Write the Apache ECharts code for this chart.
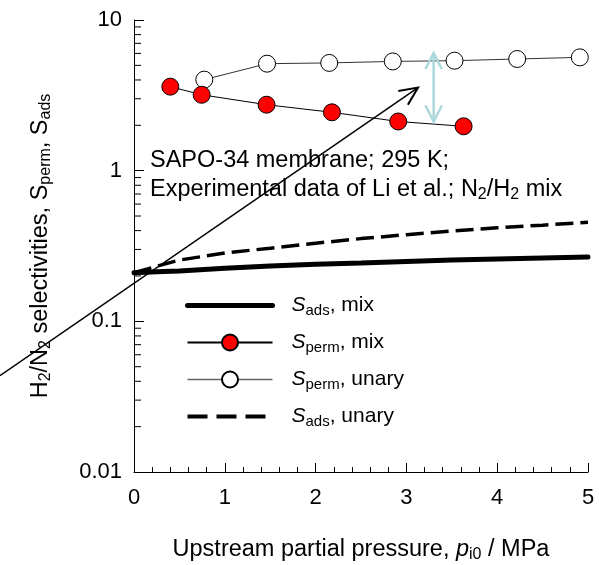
<!DOCTYPE html>
<html><head><meta charset="utf-8">
<script src="https://cdn.jsdelivr.net/npm/echarts@6/dist/echarts.min.js"></script>
<style>html,body{margin:0;padding:0;background:#fff}#c{width:599px;height:565px}</style>
</head><body><div id="c"></div>
<script>
// ---- data ----
const modelP = [0, 0.25, 0.5, 1, 1.5, 2, 2.5, 3, 3.5, 4, 4.5, 5];
const sAdsMix = [0.210, 0.213, 0.216, 0.225, 0.233, 0.239, 0.244, 0.250, 0.255, 0.259, 0.263, 0.267];
const sAdsUnary = [0.210, 0.232, 0.255, 0.284, 0.306, 0.330, 0.354, 0.376, 0.397, 0.418, 0.435, 0.454];
const permMixP = [0.40, 0.745, 1.46, 2.18, 2.91, 3.63];
const permMixS = [3.61, 3.19, 2.74, 2.44, 2.12, 1.97];
const permUnaryP = [0.774, 1.465, 2.15, 2.85, 3.53, 4.22, 4.91];
const permUnaryS = [4.02, 5.13, 5.19, 5.31, 5.37, 5.51, 5.65];
const arrowLine = [[-1.476, 0.0436], [3.128, 3.56]];
const gapArrow = [[3.30, 2.12], [3.30, 6.04]];
const xTicks = [0, 1, 2, 3, 4, 5];
const yTicks = [0.01, 0.1, 1, 10];
const yMinor = [2,3,4,5,6,7,8,9];

const FONT = 'Liberation Sans, Arial, sans-serif';
const zip = (a, b) => a.map((v, i) => [v, b[i]]);

const chart = echarts.init(document.getElementById('c'), null, {renderer: 'canvas'});
const legendNames = {
  'Sads_mix': '{i|S}{s|ads}{t|, mix}',
  'Sperm_mix': '{i|S}{s|perm}{t|, mix}',
  'Sperm_unary': '{i|S}{s|perm}{t|, unary}',
  'Sads_unary': '{i|S}{s|ads}{t|, unary}'
};
const T = 23.5, TS = 16;
const mainStyle = {fontSize: T, fontFamily: FONT, color: '#000'};
const subStyle = {fontSize: TS, fontFamily: FONT, color: '#000', padding: [11, 0, 0, 0]};
const lgMain = {fontSize: 21, fontFamily: FONT, color: '#000'};
const lgSub = {fontSize: 15, fontFamily: FONT, color: '#000', padding: [10, 0, 0, 0]};

chart.setOption({
  animation: false,
  backgroundColor: '#fff',
  grid: {left: 134, top: 20, right: 11, bottom: 93, containLabel: false, outerBoundsMode: 'none'},
  xAxis: {
    type: 'value', min: 0, max: 5, interval: 1,
    axisLine: {show: true, lineStyle: {color: '#000', width: 1}},
    axisTick: {show: true, inside: true, length: 9, lineStyle: {color: '#000'}},
    minorTick: {show: true, splitNumber: 5, length: 5, lineStyle: {color: '#000'}},
    splitLine: {show: false},
    axisLabel: {margin: 15, fontSize: 22, fontFamily: FONT, color: '#000',
      formatter: v => xTicks.includes(v) ? String(v) : ''},
    name: '{n|Upstream partial pressure, }{i|p}{s|i0}{n| / MPa}',
    nameLocation: 'middle', nameGap: 64,
    nameTextStyle: {rich: {n: mainStyle, i: Object.assign({}, mainStyle, {fontStyle: 'italic'}), s: subStyle}}
  },
  yAxis: {
    type: 'log', logBase: 10, min: 0.01, max: 10,
    axisLine: {show: true, lineStyle: {color: '#000', width: 1}},
    axisTick: {show: true, inside: true, length: 10, lineStyle: {color: '#000'}},
    minorTick: {show: false},
    splitLine: {show: false},
    axisLabel: {margin: 12, fontSize: 22, fontFamily: FONT, color: '#000',
      formatter: v => { const t = yTicks.find(k => Math.abs(k - v) / k < 1e-6); return t === undefined ? '' : String(t); }},
    name: '{n|H}{s|2}{n|/N}{s|2}{n| selectivities, S}{s|perm}{n|, S}{s|ads}',
    nameLocation: 'middle', nameGap: 80,
    nameTextStyle: {rich: {n: mainStyle, s: subStyle}}
  },
  legend: {
    orient: 'vertical', left: 180, top: 290, itemWidth: 85, itemHeight: 20, itemGap: 14,
    data: [
      {name: 'Sads_mix', lineStyle: {width: 5, color: '#000'}},
      {name: 'Sperm_mix'},
      {name: 'Sperm_unary', lineStyle: {color: '#666', width: 1.5}},
      {name: 'Sads_unary', lineStyle: {width: 4, color: '#000', type: [20, 9]}}
    ],
    formatter: n => legendNames[n],
    textStyle: {padding: [0, 0, 0, 14], rich: {
      i: Object.assign({}, lgMain, {fontStyle: 'italic'}), s: lgSub, t: lgMain}},
    selectedMode: false
  },
  series: [
    {name: 'Sads_unary', type: 'line', data: zip(modelP, sAdsUnary), symbol: 'none', z: 2,
     lineStyle: {color: '#000', width: 3.5, type: [18, 7]}, itemStyle: {color: 'transparent'}},
    {name: 'Sads_mix', type: 'line', data: zip(modelP, sAdsMix), symbol: 'none', z: 2,
     lineStyle: {color: '#000', width: 5, cap: 'round'}, itemStyle: {color: 'transparent'}},
    {name: 'Sperm_unary', type: 'line', data: zip(permUnaryP, permUnaryS), symbol: 'circle', symbolSize: 17, z: 4,
     lineStyle: {color: '#333', width: 1}, itemStyle: {color: '#fff', borderColor: '#000', borderWidth: 1}},
    {name: 'Sperm_mix', type: 'line', data: zip(permMixP, permMixS), symbol: 'circle', symbolSize: 17, z: 4,
     lineStyle: {color: '#000', width: 1}, itemStyle: {color: '#ff0000', borderColor: '#000', borderWidth: 1}}
  ]
});

// ---- decorations derived from axis scales ----
const px = (x, y) => chart.convertToPixel({gridIndex: 0}, [x, y]);
const graphics = [];
const axisX = px(0, 1)[0];
[0.01, 0.1, 1].forEach(dec => yMinor.forEach(m => {
  const y = px(0, dec * m)[1];
  graphics.push({type: 'line', shape: {x1: axisX, y1: y, x2: axisX + 7, y2: y}, style: {stroke: '#000', lineWidth: 1}});
}));
function shaft(p0, p1, color, w) {
  graphics.push({type: 'line', z: 10, shape: {x1: p0[0], y1: p0[1], x2: p1[0], y2: p1[1]}, style: {stroke: color, lineWidth: w}});
}
function head(tip, from, len, half, color, w) {
  const ang = Math.atan2(from[1] - tip[1], from[0] - tip[0]);
  const a1 = ang + half, a2 = ang - half;
  graphics.push({type: 'polyline', z: 10, shape: {points: [
    [tip[0] + len * Math.cos(a1), tip[1] + len * Math.sin(a1)], tip,
    [tip[0] + len * Math.cos(a2), tip[1] + len * Math.sin(a2)]]},
    style: {stroke: color, lineWidth: w, fill: null}});
}
const a0 = px(...arrowLine[0]), a1 = px(...arrowLine[1]);
shaft(a0, a1, '#000', 1.5);
head(a1, a0, 20, 25 * Math.PI / 180, '#000', 2);
const g0 = px(...gapArrow[0]), g1 = px(...gapArrow[1]);
shaft(g0, g1, '#acd8dc', 2.5);
head(g1, g0, 18, 27 * Math.PI / 180, '#acd8dc', 2.5);
head(g0, g1, 18, 27 * Math.PI / 180, '#acd8dc', 2.5);
// annotation text
graphics.push({type: 'text', left: 150, top: 146, z: 10, style: {
  text: '{n|SAPO-34 membrane; 295 K;}\n{n|Experimental data of Li et al.; N}{s|2}{n|/H}{s|2}{n| mix}',
  fill: '#000', lineHeight: 29,
  rich: {n: {fontSize: T, fontFamily: FONT, fill: '#000', lineHeight: 29},
         s: {fontSize: TS, fontFamily: FONT, fill: '#000', padding: [11, 0, 0, 0], lineHeight: 29}}}});
chart.setOption({graphic: graphics});
</script></body></html>
